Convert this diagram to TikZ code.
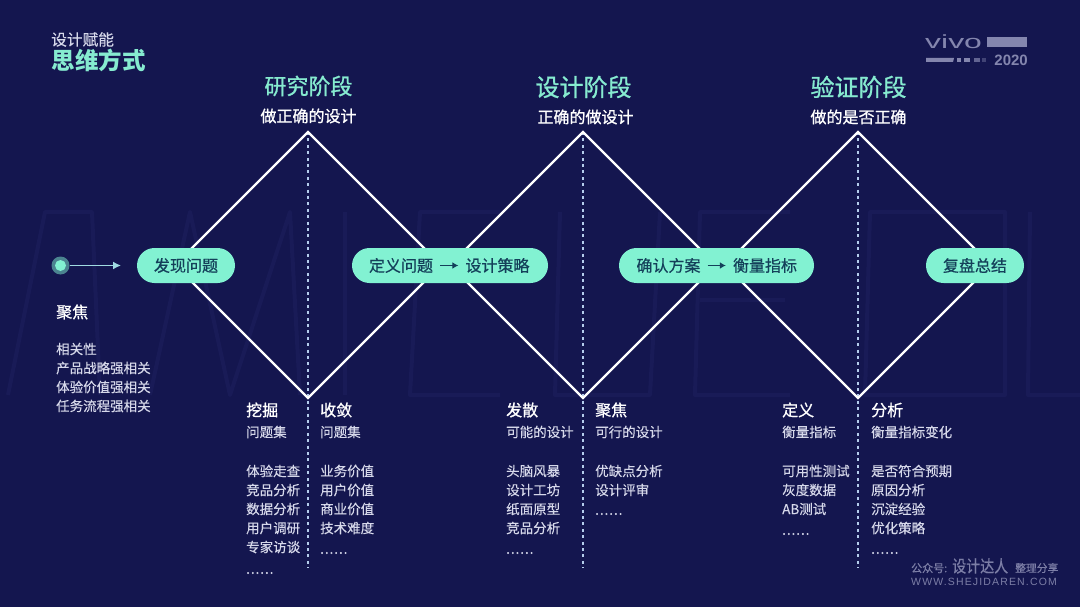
\documentclass[tikz,border=0pt]{standalone}
\usepackage{fontspec}
\setmainfont{Noto Sans CJK SC}
\newfontfamily\latinfont{Liberation Sans}
\newfontfamily\medf[FakeBold=0.6]{Noto Sans CJK SC}
\newfontfamily\semif[FakeBold=0.25]{Noto Sans CJK SC}
\newfontfamily\headf[FakeBold=1.0]{Noto Sans CJK SC}
\newfontfamily\dotf[LetterSpace=7,FakeBold=1.2]{Noto Sans CJK SC}
\definecolor{bgc}{HTML}{14164F}
\definecolor{mint}{HTML}{82F2D2}
\definecolor{minttxt}{HTML}{86EBD0}
\definecolor{pilltxt}{HTML}{14405A}
\definecolor{bodytxt}{HTML}{D6D8EA}
\definecolor{axisc}{HTML}{B4CCEC}
\definecolor{logoc}{HTML}{8486AE}
\definecolor{markc}{HTML}{7C7EA6}
\definecolor{ghost}{HTML}{191B57}
\newcommand{\fs}[1]{\fontsize{#1}{#1}\selectfont}
\usetikzlibrary{arrows.meta}
\tikzset{
  x=1pt,y=-1pt,
  ghostline/.style={draw=ghost,line width=4pt,line join=round},
  diam/.style={draw=white,line width=2.4pt,line join=miter},
  axis/.style={draw=axisc,line width=1.1pt,dash pattern=on 3pt off 3.4pt},
  pill/.style={fill=mint,draw=none,rounded corners=17.5pt,minimum height=35pt,inner sep=0pt,text=pilltxt,font=\fs{16}\medf},
  pilltext/.style={text=pilltxt,font=\fs{16}\medf,inner sep=0pt},
  stagetitle/.style={text=minttxt,inner sep=0pt},
  stagesub/.style={text=white,font=\fs{16}\headf,inner sep=0pt},
  head/.style={text=white,font=\fs{16}\headf,inner sep=0pt,anchor=west},
  item/.style={text=bodytxt,font=\fs{13.5}\semif,inner sep=0pt,anchor=west},
  dots/.style={text=bodytxt,font=\fs{13.5}\dotf,inner sep=0pt,anchor=west},
  flowarrow/.style={draw=pilltxt,line width=1.8pt,-{Latex[length=6pt,width=7pt]}},
  markt/.style={anchor=west,text=markc,inner sep=0pt},
}
\begin{document}
\begin{tikzpicture}
\useasboundingbox (0,0) rectangle (1080,607);
\fill[bgc] (0,0) rectangle (1080,607);
% faint background lettering
\draw[ghostline] (8,395) -- (45,212) -- (92,212) -- (100,395);
\draw[ghostline] (150,395) -- (190,212) -- (230,395) -- (290,212) -- (300,395);
\draw[ghostline] (345,212) -- (345,395);
\draw[ghostline] (500,212) -- (420,212) -- (410,395) -- (500,395);
\draw[ghostline] (560,212) -- (555,395) -- (650,395) -- (660,212);
\draw[ghostline] (790,212) -- (700,212) -- (695,395) -- (790,395);
\draw[ghostline] (700,300) -- (785,300);
\draw[ghostline] (870,212) -- (865,395) -- (1005,395) -- (1005,212) -- cycle;
\draw[ghostline] (1030,212) -- (1028,395) -- (1080,395);
% apex coordinates
\coordinate (t1) at (308,132); \coordinate (b1) at (308,398);
\coordinate (l1) at (175,265); \coordinate (r1) at (441,265);
\coordinate (t2) at (583,132); \coordinate (b2) at (583,398);
\coordinate (l2) at (450,265); \coordinate (r2) at (716,265);
\coordinate (t3) at (858,132); \coordinate (b3) at (858,398);
\coordinate (l3) at (725,265); \coordinate (r3) at (991,265);
\coordinate (e1) at (308,568); \coordinate (e2) at (583,568); \coordinate (e3) at (858,568);
\draw[axis] (t1) -- (e1);
\draw[axis] (t2) -- (e2);
\draw[axis] (t3) -- (e3);
\draw[diam] (t1) -- (r1) -- (b1) -- (l1) -- cycle;
\draw[diam] (t2) -- (r2) -- (b2) -- (l2) -- cycle;
\draw[diam] (t3) -- (r3) -- (b3) -- (l3) -- cycle;
% pills
\node[pill,minimum width=98pt] (p1) at (186,265.5) {发现问题};
\node[pill,minimum width=196pt] (p2) at (450,265.5) {};
\node[pill,minimum width=195pt] (p3) at (716.5,265.5) {};
\node[pill,minimum width=98pt] (p4) at (975,265.5) {复盘总结};
\node[pilltext] (p2a) at (401,265.5) {定义问题};
\node[pilltext] (p2b) at (497.5,265.5) {设计策略};
\node[pilltext] (p3a) at (668.5,265.5) {确认方案};
\node[pilltext] (p3b) at (765,265.5) {衡量指标};
\draw[flowarrow] ([xshift=7pt]p2a.east) -- ([xshift=-7pt]p2b.west);
\draw[flowarrow] ([xshift=7pt]p3a.east) -- ([xshift=-7pt]p3b.west);
% start dot
\node[circle,fill=mint!50!bgc,minimum size=18pt,inner sep=0pt] (dot) at (60.5,265.5) {};
\node[circle,fill=mint,minimum size=11pt,inner sep=0pt] at (dot) {};
\coordinate (arrowend) at (121,265.5);
\draw[draw=axisc!60!mint,line width=1.5pt,-{Latex[length=8pt,width=8pt]}] (dot.east) -- (arrowend);
% page title
\node[anchor=west,text=bodytxt,font=\fs{15.7}\semif,inner sep=0pt] (t0) at (51,39.5) {设计赋能};
\node[anchor=west,text=minttxt,font=\fs{23.5}\bfseries,inner sep=0pt] (t00) at (51.5,60) {思维方式};
% stages
\node[stagetitle,font=\fs{22}\headf] (s1) at (308.5,86) {研究阶段};
\node[stagesub] (s1b) at (308.5,116) {做正确的设计};
\node[stagetitle,font=\fs{24}\headf] (s2) at (583.5,87) {设计阶段};
\node[stagesub] (s2b) at (585.5,117) {正确的做设计};
\node[stagetitle,font=\fs{24}\headf] (s3) at (858.5,87) {验证阶段};
\node[stagesub] (s3b) at (858.5,117) {做的是否正确};
% left block
\node[head] (a0) at (56,312) {聚焦};
\node[item] (a1) at (56,349) {相关性};
\node[item] (a2) at (56,368) {产品战略强相关};
\node[item] (a3) at (56,387) {体验价值强相关};
\node[item] (a4) at (56,406) {任务流程强相关};
% columns
\node[head] (c1) at (246,410) {挖掘};
\node[item] at (246,432) {问题集};
\node[item] at (246,471) {体验走查};
\node[item] at (246,490) {竞品分析};
\node[item] at (246,509) {数据分析};
\node[item] at (246,528) {用户调研};
\node[item] at (246,547) {专家访谈};
\node[dots] at (246,573) {......};
\node[head] (c2) at (320,410) {收敛};
\node[item] at (320,432) {问题集};
\node[item] at (320,471) {业务价值};
\node[item] at (320,490) {用户价值};
\node[item] at (320,509) {商业价值};
\node[item] at (320,528) {技术难度};
\node[dots] at (320,553) {......};
\node[head] (c3) at (506,410) {发散};
\node[item] at (506,432) {可能的设计};
\node[item] at (506,471) {头脑风暴};
\node[item] at (506,490) {设计工坊};
\node[item] at (506,509) {纸面原型};
\node[item] at (506,528) {竞品分析};
\node[dots] at (506,553) {......};
\node[head] (c4) at (595,410) {聚焦};
\node[item] at (595,432) {可行的设计};
\node[item] at (595,471) {优缺点分析};
\node[item] at (595,490) {设计评审};
\node[dots] at (595,514) {......};
\node[head] (c5) at (782,410) {定义};
\node[item] at (782,432) {衡量指标};
\node[item] at (782,471) {可用性测试};
\node[item] at (782,490) {灰度数据};
\node[item] at (782,509) {AB测试};
\node[dots] at (782,534) {......};
\node[head] (c6) at (871,410) {分析};
\node[item] at (871,432) {衡量指标变化};
\node[item] at (871,471) {是否符合预期};
\node[item] at (871,490) {原因分析};
\node[item] at (871,509) {沉淀经验};
\node[item] at (871,528) {优化策略};
\node[dots] at (871,553) {......};
% logo
\node[anchor=west,text=logoc,inner sep=0pt,font=\latinfont\fs{19}] at (925,42) {\scalebox{1.68}[1]{vivo}};
\fill[logoc] (987,37) rectangle (1027,47);
\fill[logoc] (926,58) -- (954,58) -- (953,62) -- (926,62) -- cycle;
\fill[logoc] (957,58) rectangle (961,62);
\fill[logoc] (964,58) rectangle (970,62);
\fill[logoc!70!bgc] (974,58) rectangle (980,62);
\fill[logoc!40!bgc] (982,58) rectangle (986,62);
\node[anchor=east,text=logoc,inner sep=0pt,font=\latinfont\fs{15}\bfseries] at (1028,60) {2020};
% source mark
\node[markt,font=\fs{11}\medf] at (911,568) {公众号:};
\node[markt,font=\fs{14}\medf] at (952,566) {\scalebox{1}[1.2]{设计达人}};
\node[markt,font=\fs{10.8}\medf] at (1015,568) {整理分享};
\node[markt,font=\latinfont\fs{10.5}] at (911,582) {\addfontfeatures{LetterSpace=11}WWW.SHEJIDAREN.COM};
\end{tikzpicture}
\end{document}
